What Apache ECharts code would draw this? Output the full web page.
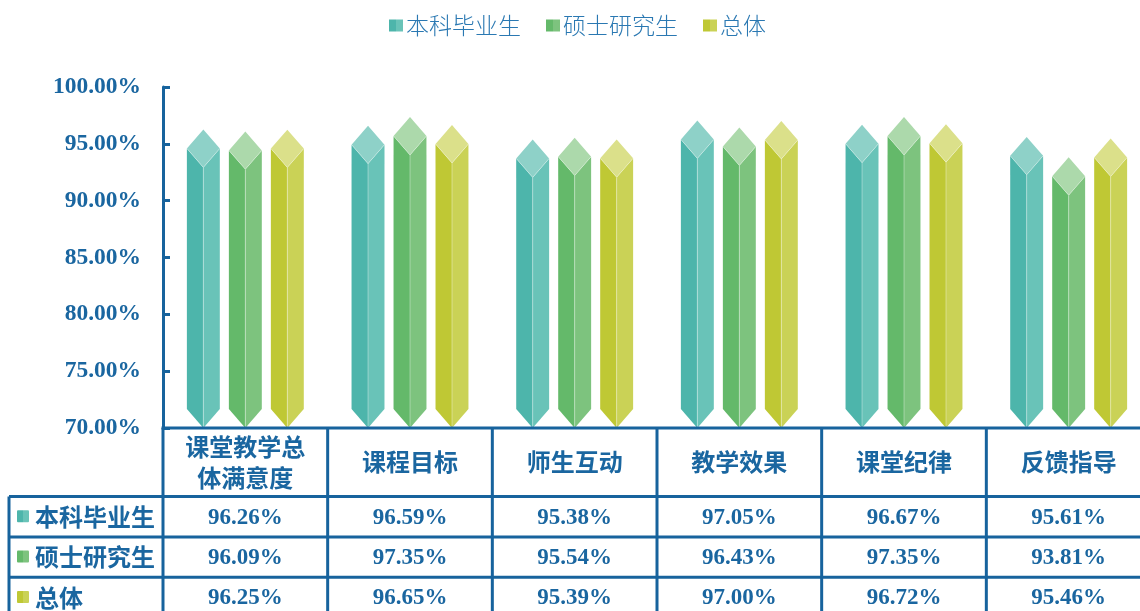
<!DOCTYPE html>
<html>
<head>
<meta charset="utf-8">
<script src="https://cdn.jsdelivr.net/npm/echarts@6/dist/echarts.min.js"></script>
<style>
  html, body { margin: 0; padding: 0; background: #fff; }
  #main { width: 1140px; height: 611px; }
</style>
</head>
<body>
<div id="main"></div>
<script>
// Satisfaction by teaching dimension
const categories = ['课堂教学总\n体满意度', '课程目标', '师生互动', '教学效果', '课堂纪律', '反馈指导'];
const seriesNames = ['本科毕业生', '硕士研究生', '总体'];
const undergrad = [96.26, 96.59, 95.38, 97.05, 96.67, 95.61];
const master = [96.09, 97.35, 95.54, 96.43, 97.35, 93.81];
const overall = [96.25, 96.65, 95.39, 97.00, 96.72, 95.46];
const yTicks = [70, 75, 80, 85, 90, 95, 100];

const BLUE = '#17639d';
const TEXT = '#1a66a0';
const CJK = '"Noto Sans CJK SC", sans-serif';
const SERIF = '"Liberation Serif", "DejaVu Serif", serif';

// face colours: [left, right, top]
const palettes = [
  ['#4db5ab', '#69c3b8', '#8ed1c8'],
  ['#64b96a', '#7dc37e', '#acd9ab'],
  ['#bfc834', '#cad256', '#dbe08a']
];

function faceGradient(p) {
  return new echarts.graphic.LinearGradient(0, 0, 1, 0, [
    { offset: 0, color: p[0] }, { offset: 0.5, color: p[0] },
    { offset: 0.5, color: p[1] }, { offset: 1, color: p[1] }
  ]);
}

// hexagonal prism with a diamond cap whose apex sits at the value
function renderPrism(params, api) {
  const idx = api.value(0);
  const val = api.value(1);
  const band = api.size([1, 0])[0];
  const off = (params.seriesIndex - 1) * band * 0.255;
  const apex = api.coord([idx, val]);
  const base = api.coord([idx, yTicks[0]]);
  const cx = apex[0] + off;
  const hw = band * 0.1;
  const dh = hw * 1.15;
  const xl = cx - hw, xr = cx + hw;
  const yA = apex[1], yB = base[1];
  const p = palettes[params.seriesIndex];
  return {
    type: 'group',
    children: [
      { type: 'polygon', shape: { points: [[xl, yA + dh], [cx, yA + 2 * dh], [cx, yB], [xl, yB - dh]] },
        style: { fill: p[0] } },
      { type: 'polygon', shape: { points: [[cx, yA + 2 * dh], [xr, yA + dh], [xr, yB - dh], [cx, yB]] },
        style: { fill: p[1] } },
      { type: 'polygon', shape: { points: [[cx, yA], [xr, yA + dh], [cx, yA + 2 * dh], [xl, yA + dh]] },
        style: { fill: p[2] } },
      { type: 'line', shape: { x1: cx, y1: yA + 2 * dh, x2: cx, y2: yB },
        style: { stroke: 'rgba(255,255,255,0.35)', lineWidth: 1 } },
      { type: 'polyline', shape: { points: [[xl, yA + dh], [cx, yA + 2 * dh], [xr, yA + dh]] },
        style: { stroke: 'rgba(255,255,255,0.3)', lineWidth: 1, fill: null } }
    ]
  };
}

const seriesData = [undergrad, master, overall];

const chart = echarts.init(document.getElementById('main'));
chart.setOption({
  animation: false,
  legend: {
    top: 9,
    left: 384,
    icon: 'rect',
    itemWidth: 14,
    itemHeight: 12,
    itemGap: 25,
    textStyle: { color: '#2a78b2', fontSize: 23, fontFamily: CJK, fontWeight: 300, padding: [0, 0, 0, -2] },
    data: seriesNames
  },
  grid: { left: 163, width: 988, top: 87, bottom: 183, outerBoundsMode: 'none', containLabel: false },
  xAxis: {
    type: 'category',
    data: categories,
    axisLine: { show: false },
    axisTick: { show: false },
    axisLabel: { show: false },
    splitLine: { show: false }
  },
  yAxis: {
    type: 'value',
    min: yTicks[0],
    max: yTicks[yTicks.length - 1],
    interval: 5,
    axisLine: { show: true, lineStyle: { color: BLUE, width: 3 } },
    axisTick: { show: true, inside: true, length: 7, lineStyle: { color: BLUE, width: 3 } },
    splitLine: { show: false },
    axisLabel: {
      margin: 22,
      color: TEXT,
      fontSize: 23.5,
      fontWeight: 'bold',
      fontFamily: SERIF,
      formatter: v => v.toFixed(2) + '%'
    }
  },
  series: seriesNames.map((name, s) => ({
    name: name,
    type: 'custom',
    renderItem: renderPrism,
    itemStyle: { color: faceGradient(palettes[s]) },
    encode: { x: 0, y: 1 },
    data: seriesData[s].map((v, i) => [i, v])
  }))
});

// data table under the plot, aligned to the category bands
function buildTable() {
  const c0 = chart.convertToPixel({ xAxisIndex: 0 }, 0);
  const c1 = chart.convertToPixel({ xAxisIndex: 0 }, 1);
  const band = c1 - c0;
  const yTop = chart.convertToPixel({ yAxisIndex: 0 }, yTicks[0]);
  const xLeft = c0 - band / 2;
  const tableLeft = 9;
  const headerH = 68.5;
  const rowH = 40.4;
  const rowTops = [0, 1, 2, 3].map(r => yTop + headerH + r * rowH);
  const xEnd = xLeft + band * categories.length;
  const bottom = 640;
  const els = [];
  const line = (x1, y1, x2, y2) => els.push({
    type: 'line', shape: { x1, y1, x2, y2 },
    style: { stroke: BLUE, lineWidth: 3 }, z: 10
  });
  // horizontal rules
  line(xLeft - 1.5, yTop, xEnd, yTop);
  rowTops.slice(0, 3).forEach(y => line(tableLeft, y, xEnd, y));
  // vertical rules
  line(tableLeft, rowTops[0], tableLeft, bottom);
  for (let i = 0; i <= categories.length; i++) {
    line(xLeft + i * band, yTop, xLeft + i * band, bottom);
  }
  // header texts
  categories.forEach((c, i) => {
    els.push({
      type: 'text', z: 11,
      style: {
        text: c, x: xLeft + (i + 0.5) * band, y: yTop + headerH / 2,
        align: 'center', verticalAlign: 'middle',
        fill: TEXT, font: 'bold 24px ' + CJK, lineHeight: 31
      }
    });
  });
  // row labels and values
  seriesNames.forEach((name, r) => {
    const cy = rowTops[r] + rowH / 2;
    els.push({
      type: 'rect', z: 11,
      shape: { x: 17, y: cy - 6.5, width: 12, height: 12, r: 1 },
      style: { fill: faceGradient(palettes[r]) }
    });
    els.push({
      type: 'text', z: 11,
      style: {
        text: name, x: 35, y: cy, align: 'left', verticalAlign: 'middle',
        fill: TEXT, font: 'bold 24px ' + CJK
      }
    });
    seriesData[r].forEach((v, i) => {
      els.push({
        type: 'text', z: 11,
        style: {
          text: v.toFixed(2) + '%', x: xLeft + (i + 0.5) * band, y: cy + 1,
          align: 'center', verticalAlign: 'middle',
          fill: TEXT, font: 'bold 23px ' + SERIF
        }
      });
    });
  });
  chart.setOption({ graphic: { elements: els } });
}
buildTable();
</script>
</body>
</html>
